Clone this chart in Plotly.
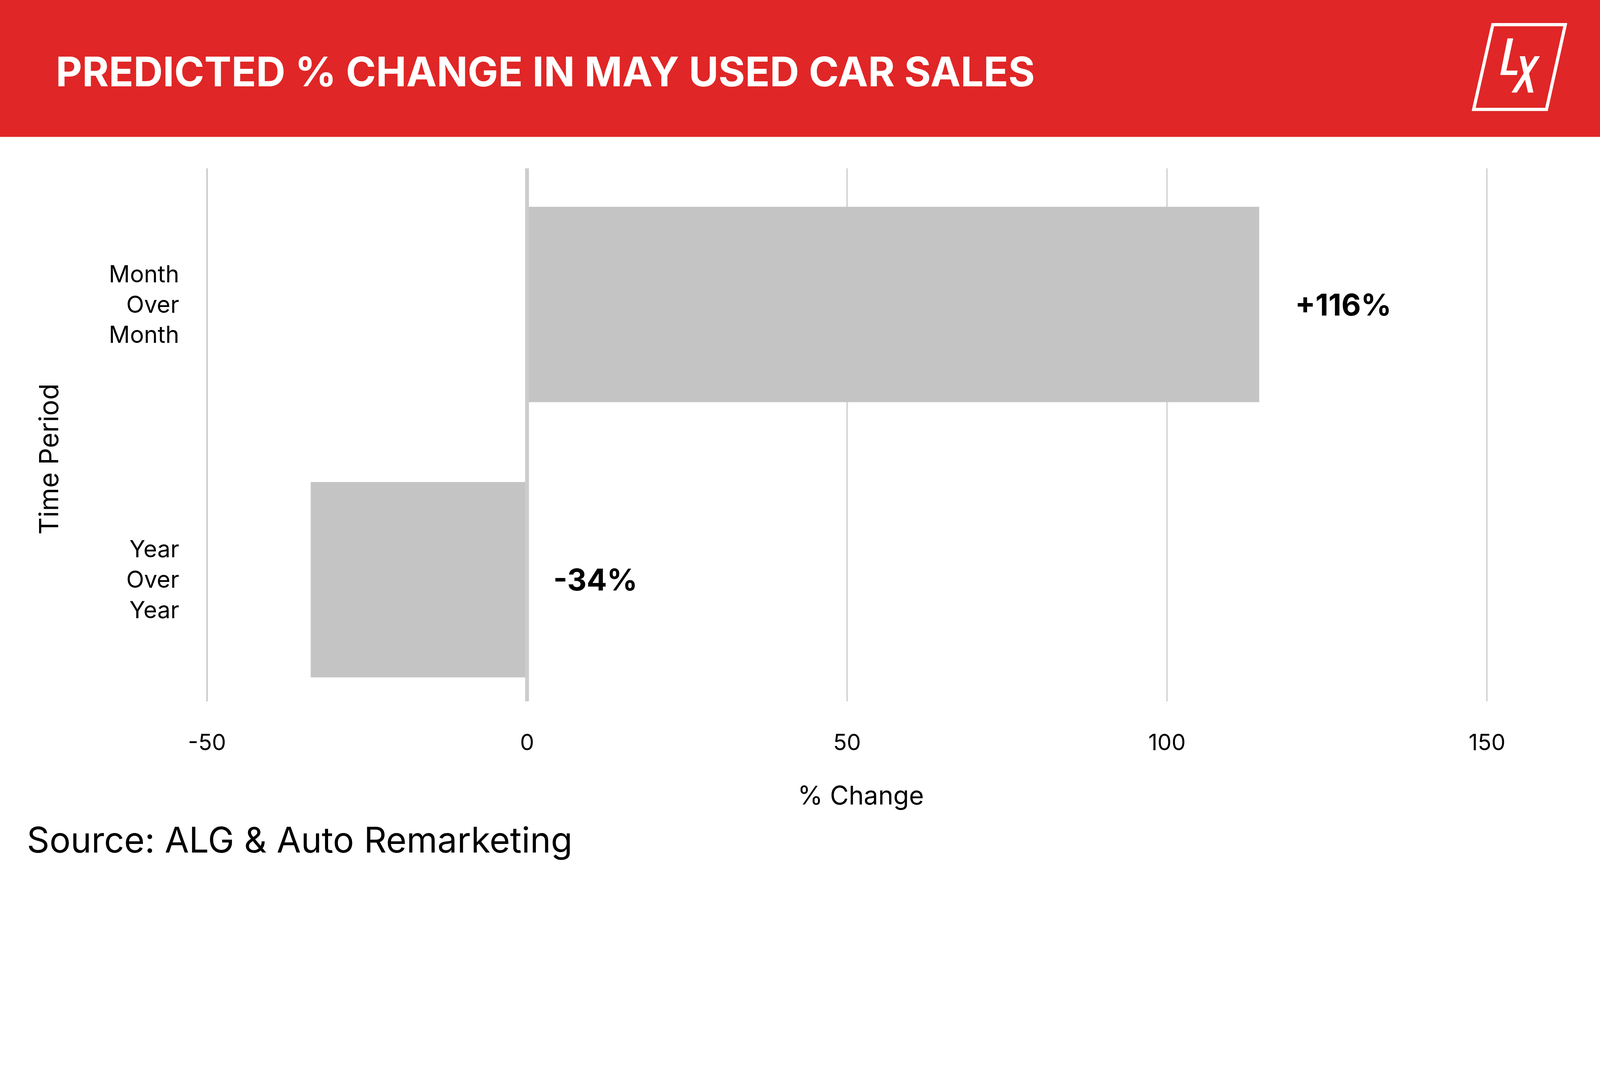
import plotly.graph_objects as go

# ---- data ----
categories = ["Month<br>Over<br>Month", "Year<br>Over<br>Year"]
values = [114.4, -33.8]
value_labels = ["+116%", "-34%"]
x_ticks = [-50, 0, 50, 100, 150]
x_tick_labels = ["-50", "0", "50", "100", "150"]

title_text = "PREDICTED % CHANGE IN MAY USED CAR SALES"
source_text = "Source: ALG & Auto Remarketing"

# ---- canvas geometry (pixels) ----
W, H = 5000, 2727
PL, PR, PT, PB = 597, 4783, 526, 2192  # plot area edges

def px(xp):
    return (xp - PL) / (PR - PL)

def py(yp):
    return (PB - yp) / (PB - PT)

FONT = "Inter"
RED = "#E02626"
BAR = "#C4C4C4"
GRID = "#CCCCCC"

fig = go.Figure()
fig.add_trace(go.Bar(
    x=values, y=categories, orientation="h",
    marker=dict(color=BAR, line=dict(width=0)),
    width=0.71, hoverinfo="skip", showlegend=False,
))

shapes = []
# header band
shapes.append(dict(type="rect", xref="paper", yref="paper",
                   x0=px(0), x1=px(W), y0=py(0), y1=py(428),
                   fillcolor=RED, line=dict(width=0), layer="below"))
# zero line above bars
shapes.append(dict(type="line", xref="x", yref="paper", x0=0, x1=0, y0=0, y1=1,
                   line=dict(color=GRID, width=12), layer="above"))

def path(points):
    return "M " + " L ".join(f"{px(a):.6f},{py(b):.6f}" for a, b in points) + " Z"

# logo parallelogram
shapes.append(dict(type="path", xref="paper", yref="paper",
                   path=path([(4665, 77), (4891.5, 77), (4832.7, 342), (4605.2, 342)]),
                   line=dict(color="white", width=10), fillcolor="rgba(0,0,0,0)"))
# L glyph
shapes.append(dict(type="path", xref="paper", yref="paper",
                   path=path([(4711, 120), (4728.7, 120), (4707.3, 220.7), (4742.7, 220.7),
                              (4740, 234.3), (4688.3, 234.3)]),
                   line=dict(width=0), fillcolor="white"))
# X glyph
shapes.append(dict(type="path", xref="paper", yref="paper",
                   path=path([(4749.3, 175.7), (4765.7, 175.7), (4792, 289.3), (4775, 289.3)]),
                   line=dict(width=0), fillcolor="white"))
shapes.append(dict(type="path", xref="paper", yref="paper",
                   path=path([(4795.7, 175.7), (4812.3, 175.7), (4740, 289.3), (4723.3, 289.3)]),
                   line=dict(width=0), fillcolor="white"))

annotations = []
annotations.append(dict(text=f"<b>{title_text}</b>", xref="paper", yref="paper",
                        x=px(172), y=py(224), xanchor="left", yanchor="middle",
                        showarrow=False, font=dict(family=FONT, size=127, color="white")))
for cat, v, lab in zip(categories, values, value_labels):
    pad = 5.5 if v > 0 else 4
    annotations.append(dict(text=f"<b>{lab}</b>", xref="x", yref="y",
                            x=max(v, 0) + pad, y=cat, xanchor="left", yanchor="middle",
                            showarrow=False, font=dict(family=FONT, size=94, color="black")))
annotations.append(dict(text="Time Period", xref="paper", yref="paper",
                        x=px(152), y=py(1435), xanchor="center", yanchor="middle",
                        textangle=-90, showarrow=False,
                        font=dict(family=FONT, size=83, color="black")))
annotations.append(dict(text=source_text, xref="paper", yref="paper",
                        x=px(82), y=py(2625), xanchor="left", yanchor="middle",
                        showarrow=False, font=dict(family=FONT, size=110, color="black")))

fig.update_layout(
    width=W, height=H,
    margin=dict(l=PL, r=W - PR, t=PT, b=H - PB, pad=0),
    paper_bgcolor="white", plot_bgcolor="white",
    bargap=0.29,
    shapes=shapes, annotations=annotations,
    xaxis=dict(
        range=[-52.5, 156.8], tickvals=x_ticks, ticktext=x_tick_labels,
        showgrid=True, gridcolor=GRID, gridwidth=4, zeroline=False,
        showline=False, ticks="", ticklabelstandoff=82,
        tickfont=dict(family=FONT, size=70, color="black"),
        title=dict(text="% Change", standoff=97,
                   font=dict(family=FONT, size=80, color="black")),
        fixedrange=True,
    ),
    yaxis=dict(
        range=[1.442, -0.495], showgrid=False, zeroline=False, showline=False,
        ticks="", ticklabelstandoff=36,
        tickfont=dict(family=FONT, size=73, color="black"),
        fixedrange=True,
    ),
)

fit_js = """
document.body.style.margin = '0';
(function(){
  var s = Math.min(window.innerWidth / 5000, window.innerHeight / 2727);
  if (s < 0.999) { document.body.style.zoom = s; }
})();
"""

fig.write_html("out.html", post_script=fit_js, config={"displayModeBar": False})
